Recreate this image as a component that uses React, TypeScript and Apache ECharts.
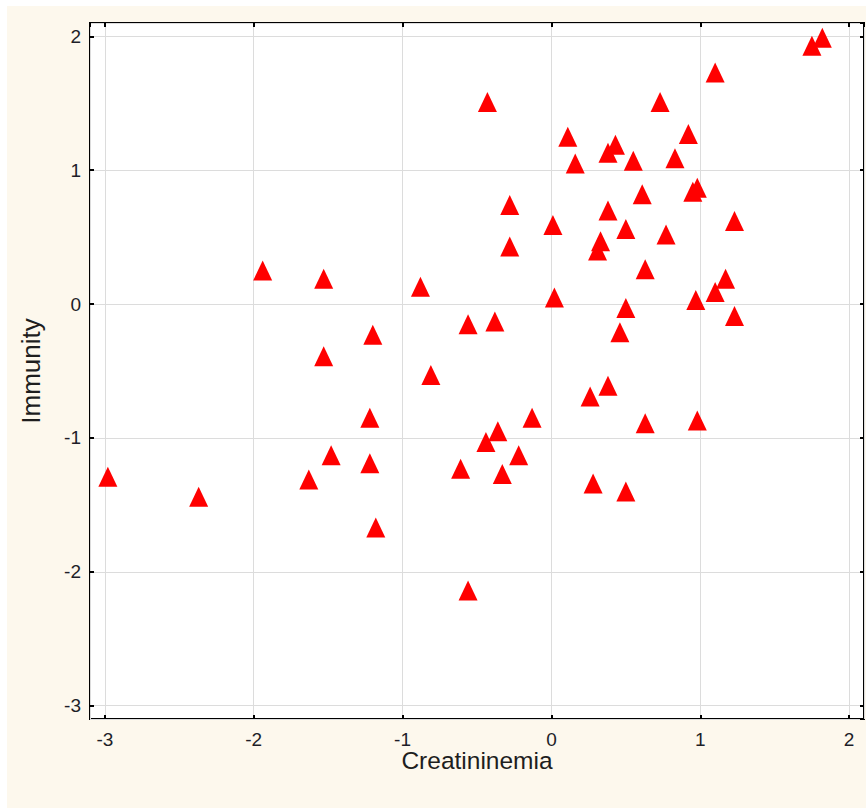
import React, { useEffect, useRef } from "react";
import * as echarts from "echarts";

// Standardised scores: creatininemia (x) against immunity (y)
const creatininemia = [
  -2.98, -2.37, -1.94, -1.53, -1.53, -1.48, -1.63, -0.43, 0.11, 0.16,
  -0.28, 0.01, -0.28, 0.33, 0.31, -0.88, 0.02, -1.2, -0.56, -0.38,
  -0.81, -1.22, -1.22, -1.18, -0.13, -0.36, -0.44, -0.22, -0.61, -0.33,
  -0.56, 0.26, 0.28, 1.1, 0.73, 0.92, 0.43, 0.38, 0.55, 0.83,
  0.98, 0.95, 0.61, 0.38, 1.23, 0.5, 0.77, 0.63, 1.17, 1.1,
  0.97, 0.5, 1.23, 0.46, 0.38, 0.63, 0.98, 0.5, 1.75, 1.82,
];
const immunity = [
  -1.29, -1.44, 0.25, 0.19, -0.39, -1.13, -1.31, 1.51, 1.25, 1.05,
  0.74, 0.59, 0.43, 0.47, 0.4, 0.13, 0.05, -0.23, -0.15, -0.13,
  -0.53, -0.85, -1.19, -1.67, -0.85, -0.95, -1.03, -1.13, -1.23, -1.27,
  -2.14, -0.69, -1.34, 1.73, 1.51, 1.27, 1.19, 1.13, 1.07, 1.09,
  0.87, 0.84, 0.82, 0.7, 0.62, 0.56, 0.52, 0.26, 0.19, 0.09,
  0.03, -0.03, -0.09, -0.21, -0.61, -0.89, -0.87, -1.4, 1.93, 1.99,
];

const xTitle = "Creatininemia";
const yTitle = "Immunity";
const axisMin = -3.1;
const axisMax = 2.1;

const FONT = "'Liberation Sans', Arial, sans-serif";

const intLabel = (v: number) => (Math.abs(v - Math.round(v)) < 1e-9 ? String(Math.round(v)) : "");

const tickStyle = { show: true, inside: true, length: 4, lineStyle: { color: "#000", width: 2 } };

export default function App() {
  const ref = useRef<HTMLDivElement>(null);

  useEffect(() => {
    document.body.style.margin = "0";
    const el = ref.current!;
    const chart = echarts.init(el, null, { renderer: "svg" });

    const points = creatininemia.map((x, i) => [x, immunity[i]]);

    const labelStyle = {
      show: true,
      fontSize: 19,
      lineHeight: 15,
      color: "#1e1e28",
      fontFamily: FONT,
      formatter: intLabel,
      showMinLabel: false,
      showMaxLabel: false,
    };

    const mainX = {
      type: "value",
      min: axisMin,
      max: axisMax,
      position: "bottom",
      axisLine: { show: false, onZero: false },
      axisTick: tickStyle,
      axisLabel: { ...labelStyle, margin: 13 },
      splitLine: { show: true, lineStyle: { color: "#dcdcdc", width: 1 } },
      name: xTitle,
      nameLocation: "middle",
      nameGap: 29,
      nameMoveOverlap: false,
      nameTextStyle: { fontSize: 24.5, color: "#1e1e1e", fontFamily: FONT, verticalAlign: "top" },
    };
    const mainY = {
      type: "value",
      min: axisMin,
      max: axisMax,
      position: "left",
      axisLine: { show: false, onZero: false },
      axisTick: tickStyle,
      axisLabel: { ...labelStyle, margin: 9 },
      splitLine: { show: true, lineStyle: { color: "#dcdcdc", width: 1 } },
      name: yTitle,
      nameLocation: "middle",
      nameGap: 46,
      nameRotate: 90,
      nameMoveOverlap: false,
      nameTextStyle: { fontSize: 26, color: "#1e1e1e", fontFamily: FONT },
    };
    // Top and right axes only carry the mirrored tick marks
    const mirror = (pos: string) => ({
      type: "value",
      min: axisMin,
      max: axisMax,
      position: pos,
      axisLine: { show: false, onZero: false },
      axisTick: tickStyle,
      axisLabel: { show: false },
      splitLine: { show: false },
    });

    chart.setOption({
      animation: false,
      backgroundColor: "#ffffff",
      graphic: [
        {
          type: "rect",
          z: -10,
          silent: true,
          shape: { x: 7, y: 6, width: 866 - 7, height: 808 - 6 },
          style: { fill: "#fdf8ed" },
        },
      ],
      grid: {
        left: 90,
        right: 2,
        top: 23,
        bottom: 90,
        show: true,
        backgroundColor: "#ffffff",
        borderColor: "#000000",
        borderWidth: 2,
        z: 0,
      },
      xAxis: [mainX, mirror("top")],
      yAxis: [mainY, mirror("right")],
      series: [
        {
          type: "scatter",
          xAxisIndex: 0,
          yAxisIndex: 0,
          symbol: "triangle",
          symbolSize: [19, 20],
          itemStyle: { color: "#ff0000", opacity: 1 },
          data: points,
          z: 5,
        },
      ],
    });

    return () => chart.dispose();
  }, []);

  return <div ref={ref} style={{ width: 866, height: 809 }} />;
}
